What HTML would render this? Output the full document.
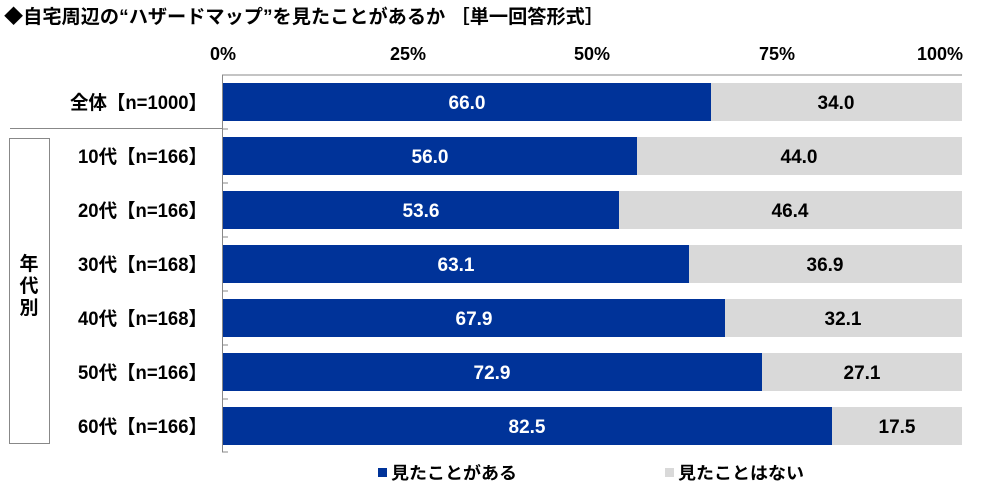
<!DOCTYPE html>
<html><head><meta charset="utf-8"><style>
body{margin:0;width:1000px;height:492px;background:#fff;overflow:hidden;font-family:"Liberation Sans","Noto Sans CJK JP",sans-serif;}
</style></head><body>
<svg width="1000" height="492" xmlns="http://www.w3.org/2000/svg" font-family="'Liberation Sans','Noto Sans CJK JP',sans-serif" font-weight="bold">
<text x="4" y="23" font-size="19" fill="#000" textLength="600" lengthAdjust="spacingAndGlyphs">◆自宅周辺の“ハザードマップ”を見たことがあるか ［単一回答形式］</text>
<g font-size="18" text-anchor="middle" fill="#000">
<text x="223" y="60">0%</text><text x="408" y="60">25%</text><text x="592" y="60">50%</text><text x="777" y="60">75%</text><text x="940" y="60">100%</text>
</g>
<line x1="222" y1="75" x2="962" y2="75" stroke="#888" stroke-width="1"/>
<line x1="222.5" y1="75" x2="222.5" y2="452" stroke="#888" stroke-width="1"/>
<line x1="10" y1="128.5" x2="222" y2="128.5" stroke="#888" stroke-width="1"/>
<rect x="9.5" y="138.5" width="40" height="305" fill="none" stroke="#888" stroke-width="1"/>
<text x="29" y="270" font-size="19" text-anchor="middle"><tspan x="29" dy="0">年</tspan><tspan x="29" dy="22">代</tspan><tspan x="29" dy="22">別</tspan></text>
<g font-size="19" fill="#000" lengthAdjust="spacingAndGlyphs">
<text x="70" y="109" textLength="137" lengthAdjust="spacingAndGlyphs">全体【n=1000】</text>
<text x="78" y="163" textLength="129" lengthAdjust="spacingAndGlyphs">10代【n=166】</text>
<text x="78" y="217" textLength="129" lengthAdjust="spacingAndGlyphs">20代【n=166】</text>
<text x="78" y="271" textLength="129" lengthAdjust="spacingAndGlyphs">30代【n=168】</text>
<text x="78" y="325" textLength="129" lengthAdjust="spacingAndGlyphs">40代【n=168】</text>
<text x="78" y="379" textLength="129" lengthAdjust="spacingAndGlyphs">50代【n=166】</text>
<text x="78" y="433" textLength="129" lengthAdjust="spacingAndGlyphs">60代【n=166】</text>
</g>
<g id="bars" font-size="19" text-anchor="middle">
<rect x="223" y="83" width="488" height="38" fill="#003399"/><rect x="711" y="83" width="251" height="38" fill="#d9d9d9"/>
<text x="467" y="109" fill="#fff">66.0</text><text x="836" y="109">34.0</text>
<rect x="223" y="137" width="414" height="38" fill="#003399"/><rect x="637" y="137" width="325" height="38" fill="#d9d9d9"/>
<text x="430" y="163" fill="#fff">56.0</text><text x="799" y="163">44.0</text>
<rect x="223" y="191" width="396" height="38" fill="#003399"/><rect x="619" y="191" width="343" height="38" fill="#d9d9d9"/>
<text x="421" y="217" fill="#fff">53.6</text><text x="790" y="217">46.4</text>
<rect x="223" y="245" width="466" height="38" fill="#003399"/><rect x="689" y="245" width="273" height="38" fill="#d9d9d9"/>
<text x="456" y="271" fill="#fff">63.1</text><text x="825" y="271">36.9</text>
<rect x="223" y="299" width="502" height="38" fill="#003399"/><rect x="725" y="299" width="237" height="38" fill="#d9d9d9"/>
<text x="474" y="325" fill="#fff">67.9</text><text x="843" y="325">32.1</text>
<rect x="223" y="353" width="539" height="38" fill="#003399"/><rect x="762" y="353" width="200" height="38" fill="#d9d9d9"/>
<text x="492" y="379" fill="#fff">72.9</text><text x="862" y="379">27.1</text>
<rect x="223" y="407" width="609" height="38" fill="#003399"/><rect x="832" y="407" width="130" height="38" fill="#d9d9d9"/>
<text x="527" y="433" fill="#fff">82.5</text><text x="897" y="433">17.5</text>
</g>
<g stroke="#888">
<line x1="222" y1="129" x2="228" y2="129"/><line x1="222" y1="183" x2="228" y2="183"/><line x1="222" y1="237" x2="228" y2="237"/><line x1="222" y1="291" x2="228" y2="291"/><line x1="222" y1="345" x2="228" y2="345"/><line x1="222" y1="399" x2="228" y2="399"/><line x1="222" y1="452" x2="228" y2="452"/>
</g>
<rect x="378" y="468" width="9" height="9" fill="#003399"/>
<text x="391" y="479" font-size="17" textLength="126" lengthAdjust="spacingAndGlyphs">見たことがある</text>
<rect x="665" y="468" width="9" height="9" fill="#d9d9d9"/>
<text x="678" y="479" font-size="17" textLength="126" lengthAdjust="spacingAndGlyphs">見たことはない</text>
</svg>
</body></html>
